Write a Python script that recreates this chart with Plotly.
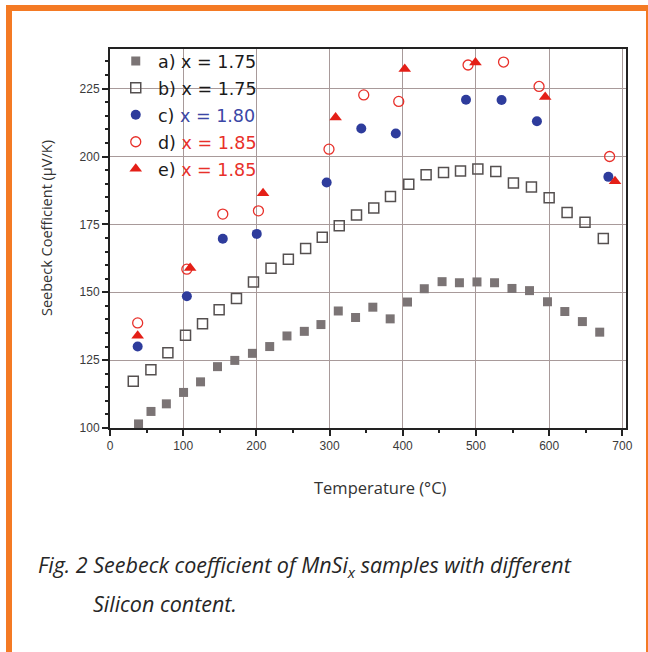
import plotly.graph_objects as go

# ---------------- data ----------------
temp_a = [39, 56, 77, 100.5, 123.7, 146.9, 170.5, 194.6, 218.2, 241.8, 265.5, 288.2, 311.9, 335.5,
          359.1, 382.8, 406.5, 429.4, 453.7, 477.4, 501.4, 525.4, 549.2, 573.2, 597.7, 621.4, 645.4, 669.1]
seebeck_a = [101.5, 106.1, 108.9, 113.1, 117.0, 122.6, 124.9, 127.5, 130.0, 133.9, 135.6, 138.1, 143.1, 140.7,
             144.5, 140.2, 146.4, 151.3, 153.9, 153.5, 153.8, 153.5, 151.4, 150.6, 146.5, 142.9, 139.2, 135.3]

temp_b = [31.8, 55.9, 79.1, 103.2, 126.4, 149.1, 172.8, 196.0, 220.0, 243.7, 267.3, 290.0, 313.2, 336.8,
          360.4, 383.2, 408.2, 431.9, 455.7, 478.9, 502.6, 527.1, 551.2, 575.8, 600.0, 624.5, 649.0, 674.0]
seebeck_b = [117.2, 121.5, 127.7, 134.2, 138.4, 143.6, 147.7, 153.8, 158.8, 162.2, 166.1, 170.3, 174.5, 178.5,
             181.0, 185.3, 189.8, 193.3, 194.1, 194.7, 195.4, 194.5, 190.2, 188.8, 184.8, 179.4, 175.8, 169.8]

temp_c = [37.8, 105.0, 154.1, 200.5, 296.0, 343.3, 390.5, 486.4, 535.0, 583.3, 680.9]
seebeck_c = [130.0, 148.5, 169.7, 171.5, 190.4, 210.3, 208.5, 220.9, 220.8, 213.0, 192.5]

temp_d = [37.8, 105.0, 154.1, 202.8, 299.2, 346.7, 394.5, 489.2, 537.7, 586.2, 682.6]
seebeck_d = [138.7, 158.5, 178.8, 180.0, 202.7, 222.7, 220.3, 233.7, 234.8, 225.8, 200.0]

temp_e = [37.8, 109.5, 209.1, 308.2, 402.7, 499.3, 594.6, 690.0]
seebeck_e = [134.0, 158.9, 186.5, 214.4, 232.2, 234.6, 221.9, 190.9]

names = [
    "a) x = 1.75",
    "b) x = 1.75",
    "c) <span style='color:#3b47a6'>x = 1.80</span>",
    "d) <span style='color:#e8302a'>x = 1.85</span>",
    "e) <span style='color:#e8302a'>x = 1.85</span>",
]

x_ticks = [0, 100, 200, 300, 400, 500, 600, 700]
y_ticks = [100, 125, 150, 175, 200, 225]

# ---------------- layout helpers ----------------
W, H = 648, 652
ML, MR, MT, MB = 110, 22, 49, 224
PW, PH = W - ML - MR, H - MT - MB


def px(x):
    return (x - ML) / PW


def py(y):
    return (H - MB - y) / PH


fig = go.Figure()

fig.add_trace(go.Scatter(x=temp_a, y=seebeck_a, mode="markers", name=names[0], legendgroup="a",
                         marker=dict(symbol="square", size=9, color="#7b7475",
                                     line=dict(width=0))))
fig.add_trace(go.Scatter(x=temp_b, y=seebeck_b, mode="markers", name=names[1], legendgroup="b",
                         marker=dict(symbol="square-open", size=10, color="#555050",
                                     line=dict(width=1.5))))
fig.add_trace(go.Scatter(x=temp_c, y=seebeck_c, mode="markers", name=names[2], legendgroup="c",
                         marker=dict(symbol="circle", size=10, color="#2e3c9c",
                                     line=dict(width=0))))
fig.add_trace(go.Scatter(x=temp_d, y=seebeck_d, mode="markers", name=names[3], legendgroup="d",
                         marker=dict(symbol="circle-open", size=10, color="#e8302a",
                                     line=dict(width=1.3))))
fig.add_trace(go.Scatter(x=temp_e, y=seebeck_e, mode="markers", name=names[4], legendgroup="e",
                         marker=dict(symbol="triangle-up", size=11, color="#e41f17",
                                     line=dict(width=0))))

axis_common = dict(
    showline=True, linecolor="#222222", linewidth=2, mirror=True,
    showgrid=True, gridcolor="#a89a9a", gridwidth=1,
    zeroline=False,
    ticks="outside", ticklen=6, tickwidth=1.5, tickcolor="#222222",
    tickfont=dict(family="Liberation Sans, Arial", size=12, color="#3a3a3a"),
)

fig.update_xaxes(range=[0, 705], tickvals=x_ticks,
                 minor=dict(dtick=50, tick0=0, ticks="outside", ticklen=3, tickcolor="#222222", showgrid=False),
                 **axis_common)
fig.update_yaxes(range=[100, 239.6], tickvals=y_ticks,
                 minor=dict(dtick=5, tick0=100, ticks="outside", ticklen=3, tickcolor="#222222", showgrid=False),
                 **axis_common)

orange = "#f47a24"
shapes = [
    dict(type="rect", xref="paper", yref="paper", x0=px(6), x1=px(12), y0=py(5), y1=py(H + 5),
         fillcolor=orange, line=dict(width=0), layer="above"),
    dict(type="rect", xref="paper", yref="paper", x0=px(6), x1=px(W + 5), y0=py(5), y1=py(11),
         fillcolor=orange, line=dict(width=0), layer="above"),
    dict(type="rect", xref="paper", yref="paper", x0=px(646), x1=px(648), y0=py(5), y1=py(H + 5),
         fillcolor=orange, line=dict(width=0), layer="above"),
]

annotations = [
    dict(text="Seebeck Coefficient (µV/K)", xref="paper", yref="paper", x=px(46), y=py(228),
         xanchor="center", yanchor="middle", textangle=-90, showarrow=False,
         font=dict(family="Open Sans", size=14.5, color="#333333")),
    dict(text="Temperature (°C)", xref="paper", yref="paper", x=px(380), y=py(487),
         xanchor="center", yanchor="middle", showarrow=False,
         font=dict(family="Open Sans", size=16.5, color="#333333")),
    dict(text="<i>Fig. 2 Seebeck coefficient of MnSi<sub>x</sub> samples with different</i>",
         xref="paper", yref="paper", x=px(36), y=py(566), xanchor="left", yanchor="middle",
         showarrow=False, font=dict(family="Open Sans", size=21.5, color="#262626")),
    dict(text="<i>Silicon content.</i>",
         xref="paper", yref="paper", x=px(91), y=py(603), xanchor="left", yanchor="middle",
         showarrow=False, font=dict(family="Open Sans", size=21.5, color="#262626")),
]

fig.update_layout(
    width=W, height=H,
    margin=dict(l=ML, r=MR, t=MT, b=MB),
    paper_bgcolor="white", plot_bgcolor="white",
    shapes=shapes, annotations=annotations,
    showlegend=True,
    legend=dict(x=px(113.5), y=py(43), xanchor="left", yanchor="top",
                bgcolor="rgba(0,0,0,0)", borderwidth=0,
                font=dict(family="DejaVu Sans", size=17.5, color="#1a1a1a"),
                traceorder="grouped", tracegroupgap=1.2, itemwidth=34.5),
)

fig.write_html("out.html", config={"displayModeBar": False},
               post_script="document.body.style.margin='0px';")
